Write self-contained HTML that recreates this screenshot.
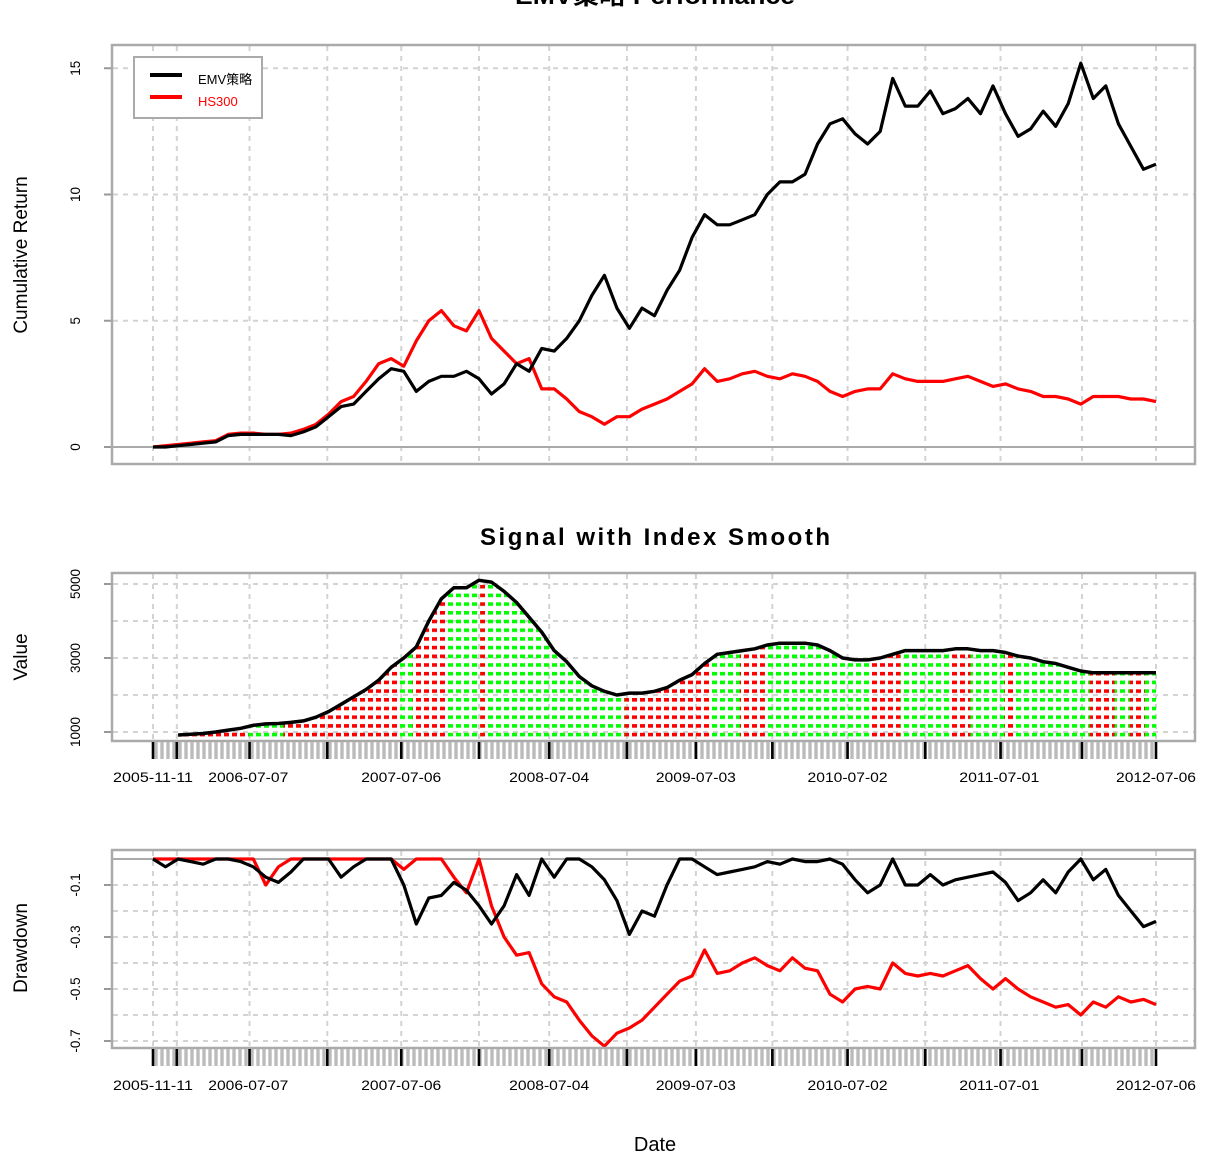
<!DOCTYPE html>
<html><head><meta charset="utf-8"><style>
html,body{margin:0;padding:0;background:#fff;}
svg{display:block;font-family:"Liberation Sans","Noto Sans CJK SC",sans-serif;}
</style></head><body>
<svg id="c" width="1206" height="1158" viewBox="0 0 1206 1158" xmlns="http://www.w3.org/2000/svg">
<defs>
<pattern id="pr" width="8" height="8.7" patternUnits="userSpaceOnUse" y="2"><rect x="0" y="0" width="5" height="3.6" fill="#ff0000"/></pattern>
<pattern id="pg" width="8" height="8.7" patternUnits="userSpaceOnUse" y="2"><rect x="0" y="0" width="5" height="3.6" fill="#00ff00"/></pattern>
</defs>
<text x="655" y="4" text-anchor="middle" font-size="24" font-weight="bold" textLength="280" lengthAdjust="spacingAndGlyphs">EMV策略 Performance</text>
<text x="655" y="545" text-anchor="middle" font-size="24" font-weight="bold" textLength="350" lengthAdjust="spacing">Signal with Index Smooth</text>
<text x="655" y="1151" text-anchor="middle" font-size="20">Date</text>
<text transform="translate(27,255) rotate(-90)" text-anchor="middle" font-size="19">Cumulative Return</text>
<text transform="translate(27,657) rotate(-90)" text-anchor="middle" font-size="19">Value</text>
<text transform="translate(27,948) rotate(-90)" text-anchor="middle" font-size="19">Drawdown</text>
<g id="g"></g>
</svg>
<script>
const emv=[0,0,0.05,0.1,0.15,0.2,0.45,0.5,0.5,0.5,0.5,0.45,0.6,0.8,1.2,1.6,1.7,2.2,2.7,3.1,3.0,2.2,2.6,2.8,2.8,3.0,2.7,2.1,2.5,3.3,3.0,3.9,3.8,4.3,5.0,6.0,6.8,5.5,4.7,5.5,5.2,6.2,7.0,8.3,9.2,8.8,8.8,9.0,9.2,10.0,10.5,10.5,10.8,12.0,12.8,13.0,12.4,12.0,12.5,14.6,13.5,13.5,14.1,13.2,13.4,13.8,13.2,14.3,13.2,12.3,12.6,13.3,12.7,13.6,15.2,13.8,14.3,12.8,11.9,11.0,11.2];
const hs300=[0,0.05,0.1,0.15,0.2,0.25,0.5,0.55,0.55,0.5,0.5,0.55,0.7,0.9,1.3,1.8,2.0,2.6,3.3,3.5,3.2,4.2,5.0,5.4,4.8,4.6,5.4,4.3,3.8,3.3,3.5,2.3,2.3,1.9,1.4,1.2,0.9,1.2,1.2,1.5,1.7,1.9,2.2,2.5,3.1,2.6,2.7,2.9,3.0,2.8,2.7,2.9,2.8,2.6,2.2,2.0,2.2,2.3,2.3,2.9,2.7,2.6,2.6,2.6,2.7,2.8,2.6,2.4,2.5,2.3,2.2,2.0,2.0,1.9,1.7,2.0,2.0,2.0,1.9,1.9,1.8];
const smooth=[null,null,920,940,960,1000,1050,1100,1180,1220,1230,1260,1300,1400,1550,1750,1950,2150,2400,2750,3000,3300,4000,4600,4900,4900,5100,5050,4800,4500,4100,3700,3200,2900,2500,2250,2100,2000,2050,2050,2100,2200,2400,2550,2850,3100,3150,3200,3250,3350,3400,3400,3400,3350,3200,3000,2950,2950,3000,3100,3200,3200,3200,3200,3250,3250,3200,3200,3150,3050,3000,2900,2850,2750,2650,2600,2600,2600,2600,2600,2600];
const regimeStart=[2,7.6,10.4,19.5,20.7,23.3,26.1,26.6,37.6,44.4,46.8,48.8,57.2,59.6,63.6,65.2,67.9,68.7,74.7,76.7,77.9,79.1];
const regimeEnd=[7.6,10.4,19.5,20.7,23.3,26.1,26.6,37.6,44.4,46.8,48.8,57.2,59.6,63.6,65.2,67.9,68.7,74.7,76.7,77.9,79.1,80];
const regimeSignal=[0,1,0,1,0,1,0,1,0,1,0,1,0,1,0,1,0,1,0,1,0,1];
const ddEmv=[0,-0.03,0,-0.01,-0.02,0,0,-0.01,-0.03,-0.07,-0.09,-0.05,0,0,0,-0.07,-0.03,0,0,0,-0.1,-0.25,-0.15,-0.14,-0.09,-0.12,-0.18,-0.25,-0.18,-0.06,-0.14,0,-0.07,0,0,-0.03,-0.08,-0.16,-0.29,-0.2,-0.22,-0.1,0,0,-0.03,-0.06,-0.05,-0.04,-0.03,-0.01,-0.02,0,-0.01,-0.01,0,-0.02,-0.08,-0.13,-0.1,0,-0.1,-0.1,-0.06,-0.1,-0.08,-0.07,-0.06,-0.05,-0.09,-0.16,-0.13,-0.08,-0.13,-0.05,0,-0.08,-0.04,-0.14,-0.2,-0.26,-0.24];
const ddHs=[0,0,0,0,0,0,0,0,0,-0.1,-0.03,0,0,0,0,0,0,0,0,0,-0.04,0,0,0,-0.07,-0.13,0,-0.18,-0.3,-0.37,-0.36,-0.48,-0.53,-0.55,-0.62,-0.68,-0.72,-0.67,-0.65,-0.62,-0.57,-0.52,-0.47,-0.45,-0.35,-0.44,-0.43,-0.4,-0.38,-0.41,-0.43,-0.38,-0.42,-0.43,-0.52,-0.55,-0.5,-0.49,-0.5,-0.4,-0.44,-0.45,-0.44,-0.45,-0.43,-0.41,-0.46,-0.5,-0.46,-0.5,-0.53,-0.55,-0.57,-0.56,-0.6,-0.55,-0.57,-0.53,-0.55,-0.54,-0.56];
const dateLabels=["2005-11-11","2006-07-07","2007-07-06","2008-07-04","2009-07-03","2010-07-02","2011-07-01","2012-07-06"];
const dateLabelIdx=[0,7.6,19.8,31.6,43.3,55.4,67.5,80];
const majorIdx=[0,1.9,7.7,13.9,19.8,26,31.6,37.8,43.3,49.4,55.4,61.6,67.6,74.1,80];
const perfTicks=[0,5,10,15];
const valTicks=[1000,3000,5000];
const valGrid=[1000,2000,3000,4000,5000];
const ddTicks=[-0.1,-0.3,-0.5,-0.7];
const ddGrid=[-0.1,-0.2,-0.3,-0.4,-0.5,-0.6,-0.7];

const NS="http://www.w3.org/2000/svg";
const G=document.getElementById('g');
function el(t,a,p){const e=document.createElementNS(NS,t);for(const k in a)e.setAttribute(k,a[k]);(p||G).appendChild(e);return e;}
const X=i=>153+i*(1156-153)/80;
const Y1=v=>447-v*25.25;
const Y2=v=>732-(v-1000)*0.037;
const Y3=v=>859+v*(-260);
const GRID="#d3d3d3";

function vgrid(y0,y1){majorIdx.forEach(i=>{const l=el('line',{x1:X(i),x2:X(i),y1:y0,y2:y1,stroke:GRID,'stroke-width':2,'stroke-dasharray':'5,5'});

});}
function hgrid(vals,f){vals.forEach(v=>{const l=el('line',{x1:113,x2:1194,y1:f(v),y2:f(v),stroke:GRID,'stroke-width':2,'stroke-dasharray':'5,5'});

});}
function yticks(vals,f,fmt){vals.forEach(v=>{const y=f(v);
const t=el('line',{x1:104,x2:112,y1:y,y2:y,stroke:'#999','stroke-width':2});


const tx=el('text',{transform:`translate(80,${y}) rotate(-90)`,'text-anchor':'middle','font-size':13.5});tx.textContent=fmt(v);

});}
function box(y0,y1,name){const b=el('rect',{x:112,y:y0,width:1083,height:y1-y0,fill:'none',stroke:'#aaa','stroke-width':2.5});

}
function line(arr,f,color,name,w){let d='';arr.forEach((v,i)=>{if(v===null)return;d+=(d?'L':'M')+X(i).toFixed(1)+','+f(v).toFixed(1);});
const p=el('path',{d:d,fill:'none',stroke:color,'stroke-width':w||3.2,'stroke-linejoin':'round'});

return p;}
function xaxis(yb,ly){
for(let x=156;x<1156;x+=6){const t=el('line',{x1:x,x2:x,y1:yb,y2:yb+17,stroke:'#bbb','stroke-width':3.4});

}
majorIdx.forEach(i=>{const t=el('line',{x1:X(i),x2:X(i),y1:yb,y2:yb+17,stroke:'#000','stroke-width':2.6});

});
dateLabels.forEach((s,k)=>{const t=el('text',{x:X(dateLabelIdx[k]),y:ly,'text-anchor':'middle','font-size':13.5,textLength:80,lengthAdjust:'spacingAndGlyphs'});t.textContent=s;

});}

// Panel 1
vgrid(46,463);hgrid([5,10,15],Y1);
const z=el('line',{x1:113,x2:1194,y1:Y1(0),y2:Y1(0),stroke:'#aaa','stroke-width':2});


yticks(perfTicks,Y1,v=>String(v));
line(hs300,Y1,'#ff0000','hs300-line');
line(emv,Y1,'#000','emv-line');
box(45,464,'performance-panel');
const lg=el('g',{});


el('rect',{x:134,y:57,width:128,height:61,fill:'#fff',stroke:'#aaa','stroke-width':2},lg);
el('line',{x1:150,x2:182,y1:75,y2:75,stroke:'#000','stroke-width':4},lg);
el('line',{x1:150,x2:182,y1:97,y2:97,stroke:'#ff0000','stroke-width':4},lg);
const l1=el('text',{x:198,y:84,'font-size':13},lg);l1.textContent='EMV策略';


const l2=el('text',{x:198,y:106,'font-size':13,fill:'#ff0000'},lg);l2.textContent='HS300';



// Panel 2
vgrid(574,740);hgrid(valGrid,Y2);
yticks(valTicks,Y2,v=>String(v));
let area='';let first=null,last=null;
smooth.forEach((v,i)=>{if(v===null)return;if(first===null)first=i;last=i;area+=(area?'L':'M')+X(i).toFixed(1)+','+Y2(v).toFixed(1);});
area+=`L${X(last)},741L${X(first)},741Z`;
regimeStart.forEach((s,k)=>{
const cp=el('clipPath',{id:'cp'+k});el('rect',{x:X(s),y:570,width:X(regimeEnd[k])-X(s)+0.5,height:175},cp);
const a=el('path',{d:area,fill:regimeSignal[k]?'url(#pg)':'url(#pr)','clip-path':`url(#cp${k})`});

});
line(smooth,Y2,'#000','index-smooth-line',3.5);
box(573,741,'signal-panel');
xaxis(742,782);

// Panel 3
vgrid(851,1047);hgrid(ddGrid,Y3);
const z3=el('line',{x1:113,x2:1194,y1:Y3(0),y2:Y3(0),stroke:'#aaa','stroke-width':2});


yticks(ddTicks,Y3,v=>String(v));
line(ddHs,Y3,'#ff0000','hs300-drawdown-line');
line(ddEmv,Y3,'#000','emv-drawdown-line');
box(850,1048,'drawdown-panel');
xaxis(1049,1090);
</script>
</body></html>
